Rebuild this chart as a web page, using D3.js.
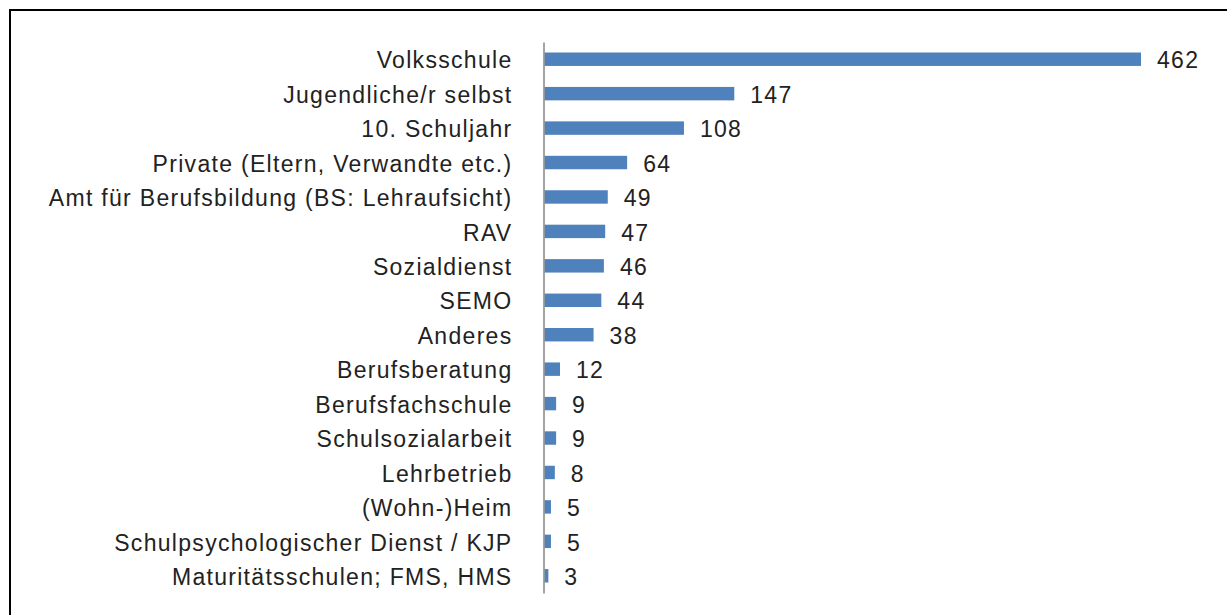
<!DOCTYPE html>
<html>
<head>
<meta charset="utf-8">
<script src="https://cdn.jsdelivr.net/npm/d3@7"></script>
<style>
  body { margin: 0; background: #fff; }
  text { font-family: "Liberation Sans", Arial, sans-serif; fill: #222; }
</style>
</head>
<body>
<svg id="chart" width="1227" height="615"></svg>
<script>
(function() {

  var categories = [
    "Volksschule",
    "Jugendliche/r selbst",
    "10. Schuljahr",
    "Private (Eltern, Verwandte etc.)",
    "Amt für Berufsbildung (BS: Lehraufsicht)",
    "RAV",
    "Sozialdienst",
    "SEMO",
    "Anderes",
    "Berufsberatung",
    "Berufsfachschule",
    "Schulsozialarbeit",
    "Lehrbetrieb",
    "(Wohn-)Heim",
    "Schulpsychologischer Dienst / KJP",
    "Maturitätsschulen; FMS, HMS"
  ];
  var values = [462, 147, 108, 64, 49, 47, 46, 44, 38, 12, 9, 9, 8, 5, 5, 3];

  var data = categories.map(function(c, i) { return { name: c, value: values[i] }; });

  var svg = d3.select("#chart");

  // frame (right and bottom edges run off the picture)
  svg.append("rect")
      .attr("x", 10)
      .attr("y", 10)
      .attr("width", 1240)
      .attr("height", 640)
      .attr("fill", "none")
      .attr("stroke", "#000")
      .attr("stroke-width", 2);

  var x = d3.scaleLinear()
      .domain([0, d3.max(values)])
      .range([544.5, 1141]);

  var y = d3.scaleBand()
      .domain(categories)
      .range([42, 593])
      .paddingInner(0.61)
      .paddingOuter(0.305);

  // bars
  svg.selectAll(".bar")
      .data(data)
    .enter().append("rect")
      .attr("class", "bar")
      .attr("x", x(0))
      .attr("y", function(d) { return y(d.name); })
      .attr("width", function(d) { return x(d.value) - x(0); })
      .attr("height", y.bandwidth())
      .style("fill", "#4f81bd");

  // category axis
  var axis = svg.append("g")
      .attr("transform", "translate(" + 543.5 + ",0)")
      .call(d3.axisLeft(y).tickSize(0).tickPadding(31));

  axis.select(".domain")
      .attr("stroke", "#868686")
      .attr("stroke-width", 1.5);

  axis.selectAll("text")
      .attr("dy", "0.4em")
      .style("font-size", "23px")
      .style("letter-spacing", "1.3px")
      .style("font-family", "'Liberation Sans', Arial, sans-serif")
      .style("fill", "#222");

  // value labels
  svg.selectAll(".val")
      .data(data)
    .enter().append("text")
      .attr("class", "val")
      .attr("x", function(d) { return x(d.value) + 16; })
      .attr("y", function(d) { return y(d.name) + y.bandwidth() / 2; })
      .attr("dy", "0.4em")
      .style("font-size", "23px")
      .style("letter-spacing", "1.3px")
      .text(function(d) { return d.value; });

})();
</script>
</body>
</html>
